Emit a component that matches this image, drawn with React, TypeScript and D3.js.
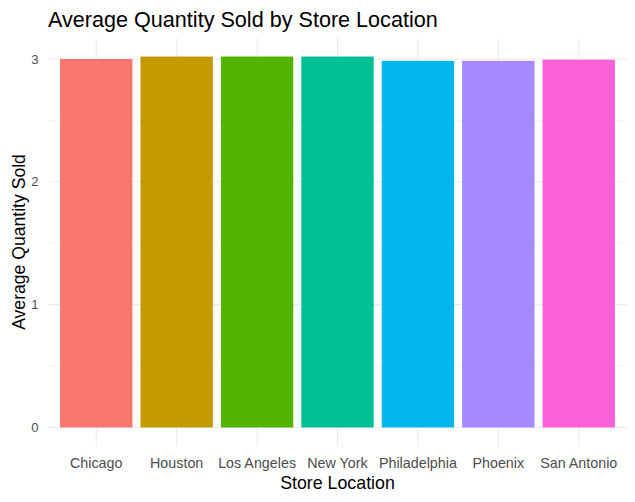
import React from "react";
import * as d3 from "d3";

// data
const locations = ["Chicago", "Houston", "Los Angeles", "New York", "Philadelphia", "Phoenix", "San Antonio"];
const avgQuantity = [3.0, 3.02, 3.02, 3.02, 2.985, 2.985, 2.995];
const barColors = ["#F8766D", "#C49A00", "#53B400", "#00C094", "#00B6EB", "#A58AFF", "#FB61D7"];
const yTicks = [0, 1, 2, 3];
const yMinorTicks = [0.5, 1.5, 2.5];

const width = 635;
const height = 502;
const margin = { top: 38, right: 8, bottom: 56, left: 48 };
const font = "'Liberation Sans', Arial, sans-serif";
const gridColor = "#EBEBEB";
const tickColor = "#4D4D4D";

const App = () => {
    const innerRight = width - margin.right;
    const innerBottom = height - margin.bottom;

    // discrete axis with ggplot's 0.6 expansion on each side
    const step = (innerRight - margin.left) / (locations.length - 1 + 1.2);
    const xScale = d3.scalePoint<string>()
        .domain(locations)
        .range([margin.left + 0.6 * step, innerRight - 0.6 * step]);
    const barWidth = step * 0.9;

    const maxValue = d3.max(avgQuantity) as number;
    const yScale = d3.scaleLinear()
        .domain([-maxValue * 0.05, maxValue * 1.05])
        .range([innerBottom, margin.top]);

    const midX = (margin.left + innerRight) / 2;
    const midY = (margin.top + innerBottom) / 2;

    return (
        <svg width={width} height={height} style={{ position: "absolute", left: 0, top: 0 }} fontFamily={font}>
            <rect width={width} height={height} fill="white" />

            {/* minor grid */}
            {yMinorTicks.map(t => (
                <line key={"m" + t} x1={margin.left} x2={innerRight} y1={yScale(t)} y2={yScale(t)}
                      stroke={gridColor} strokeWidth={0.55} />
            ))}
            {/* major grid */}
            {yTicks.map(t => (
                <line key={"y" + t} x1={margin.left} x2={innerRight} y1={yScale(t)} y2={yScale(t)}
                      stroke={gridColor} strokeWidth={1.1} />
            ))}
            {locations.map(l => (
                <line key={"x" + l} x1={xScale(l)} x2={xScale(l)} y1={margin.top} y2={innerBottom}
                      stroke={gridColor} strokeWidth={1.1} />
            ))}

            {/* bars */}
            {locations.map((l, i) => (
                <rect key={l} x={(xScale(l) as number) - barWidth / 2} width={barWidth}
                      y={yScale(avgQuantity[i])} height={yScale(0) - yScale(avgQuantity[i])}
                      fill={barColors[i]} />
            ))}

            {/* y tick labels */}
            {yTicks.map(t => (
                <text key={"yl" + t} x={margin.left - 9.5} y={yScale(t)} dy="0.36em" textAnchor="end"
                      fontSize={13} fill={tickColor}>{t}</text>
            ))}
            {/* x tick labels */}
            {locations.map(l => (
                <text key={"xl" + l} x={xScale(l)} y={468} textAnchor="middle"
                      fontSize={14.3} fill={tickColor}>{l}</text>
            ))}

            {/* axis titles */}
            <text x={midX} y={489} textAnchor="middle" fontSize={17.8} fill="black">Store Location</text>
            <text transform={`translate(24.5,${midY}) rotate(-90)`} textAnchor="middle" fontSize={17.6}
                  fill="black">Average Quantity Sold</text>

            {/* title */}
            <text x={margin.left} y={26.7} fontSize={21.6} fill="black">Average Quantity Sold by Store Location</text>
        </svg>
    );
};

export default App;
